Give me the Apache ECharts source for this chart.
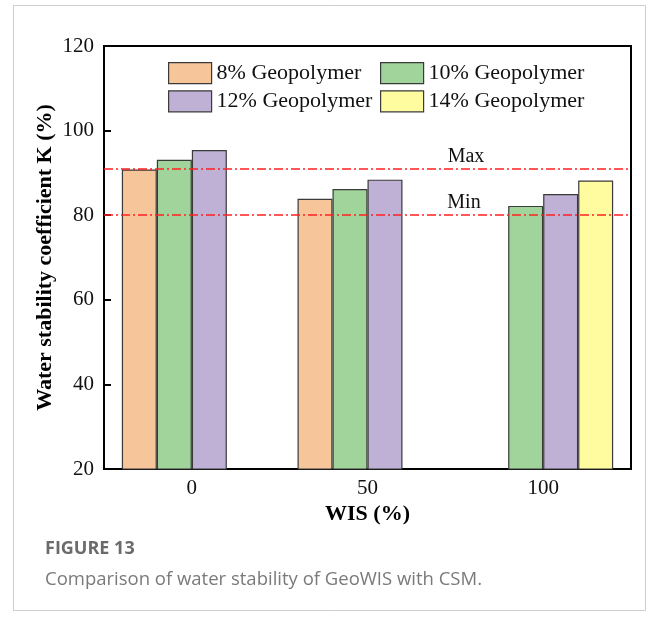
<!DOCTYPE html>
<html>
<head>
<meta charset="utf-8">
<script src="https://cdn.jsdelivr.net/npm/echarts@6/dist/echarts.min.js"></script>
<style>
  html, body { margin: 0; padding: 0; background: #fff; }
  #chart { width: 658px; height: 628px; }
</style>
</head>
<body>
<div id="chart"></div>
<script>
// WIS replacement levels on the x axis
const categories = ['0', '50', '100'];

// Water stability coefficient K (%) per geopolymer dosage
const seriesNames = ['8% Geopolymer', '10% Geopolymer', '12% Geopolymer', '14% Geopolymer'];
const geo8 = [90.8, 83.9, null];
const geo10 = [93.1, 86.2, 82.2];
const geo12 = [95.4, 88.4, 85.0];
const geo14 = [null, null, 88.2];

// Specification limits
const limitMax = 91;
const limitMin = 80;

const yTicks = { min: 20, max: 120, interval: 20 };

const colors = ['#F7C59A', '#A1D49B', '#BFB0D5', '#FFFCA0'];
const serif = '"Liberation Serif", "Times New Roman", serif';

const chart = echarts.init(document.getElementById('chart'), null, { renderer: 'canvas' });

const barBorder = { borderColor: '#3a3a3a', borderWidth: 1.2 };
const limitStyle = { color: '#FF2020', width: 1.6, type: [9, 3, 2, 3] };

function bar(name, data, color, extra) {
  return Object.assign({
    name: name,
    type: 'bar',
    data: data,
    barWidth: 35,
    barGap: '0%',
    itemStyle: Object.assign({ color: color }, barBorder),
    emphasis: { disabled: true }
  }, extra || {});
}

const legendBase = {
  orient: 'vertical',
  top: 62,
  padding: 0,
  icon: 'rect',
  itemWidth: 43,
  itemHeight: 21,
  itemGap: 6,
  selectedMode: false,
  itemStyle: { borderColor: '#3a3a3a', borderWidth: 1.2 },
  textStyle: { fontFamily: serif, fontSize: 22, color: '#111', lineHeight: 21 }
};

chart.setOption({
  animation: false,
  backgroundColor: '#fff',
  title: {
    text: 'FIGURE 13',
    subtext: 'Comparison of water stability of GeoWIS with CSM.',
    left: 45,
    top: 540,
    padding: 0,
    itemGap: 12,
    textStyle: { fontFamily: '"Open Sans", sans-serif', fontSize: 18, fontWeight: 'bold', color: '#6b6b6b' },
    subtextStyle: { fontFamily: '"Open Sans", sans-serif', fontSize: 18.5, color: '#7a7a7a' }
  },
  legend: [
    Object.assign({}, legendBase, { left: 168, data: [seriesNames[0], seriesNames[2]] }),
    Object.assign({}, legendBase, { left: 380, data: [seriesNames[1], seriesNames[3]] })
  ],
  grid: {
    left: 104, right: 27, top: 46, bottom: 159,
    show: true, borderColor: '#000', borderWidth: 2, backgroundColor: 'transparent'
  },
  xAxis: {
    type: 'category',
    data: categories,
    name: 'WIS (%)',
    nameLocation: 'middle',
    nameGap: 34,
    nameMoveOverlap: false,
    nameTextStyle: { fontFamily: serif, fontSize: 22, fontWeight: 'bold', color: '#000' },
    axisLine: { lineStyle: { color: '#000', width: 2 } },
    axisTick: { inside: true, alignWithLabel: true, length: 5, lineStyle: { color: '#000', width: 2 } },
    axisLabel: { fontFamily: serif, fontSize: 21, color: '#111', margin: 9 },
    splitLine: { show: false }
  },
  yAxis: {
    type: 'value',
    min: yTicks.min,
    max: yTicks.max,
    interval: yTicks.interval,
    name: 'Water stability coefficient K (%)',
    nameLocation: 'middle',
    nameGap: 48,
    nameMoveOverlap: false,
    nameTextStyle: { fontFamily: serif, fontSize: 22, fontWeight: 'bold', color: '#000' },
    axisLine: { show: true, lineStyle: { color: '#000', width: 2 } },
    axisTick: { show: true, inside: true, length: 7, lineStyle: { color: '#000', width: 2 } },
    axisLabel: { fontFamily: serif, fontSize: 21, color: '#111', margin: 10 },
    splitLine: { show: false }
  },
  series: [
    bar(seriesNames[0], geo8, colors[0], {
      markLine: {
        silent: true,
        symbol: 'none',
        label: { show: false },
        lineStyle: limitStyle,
        data: [{ yAxis: limitMax }, { yAxis: limitMin }]
      }
    }),
    bar(seriesNames[1], geo10, colors[1]),
    bar(seriesNames[2], geo12, colors[2]),
    bar(seriesNames[3], geo14, colors[3])
  ]
});

// Limit captions sit just above their dash-dot lines
const yMaxPx = chart.convertToPixel({ yAxisIndex: 0 }, limitMax);
const yMinPx = chart.convertToPixel({ yAxisIndex: 0 }, limitMin);
const captionFont = '20px ' + serif;

chart.setOption({
  graphic: [
    {
      type: 'rect', silent: true, z: -10,
      shape: { x: 13.5, y: 5.5, width: 632, height: 605 },
      style: { fill: 'none', stroke: '#cfcfcf', lineWidth: 1 }
    },
    {
      type: 'text', silent: true,
      x: 466, y: yMaxPx - 12,
      style: { text: 'Max', font: captionFont, fill: '#111', align: 'center', verticalAlign: 'middle' }
    },
    {
      type: 'text', silent: true,
      x: 464, y: yMinPx - 12,
      style: { text: 'Min', font: captionFont, fill: '#111', align: 'center', verticalAlign: 'middle' }
    }
  ]
});
</script>
</body>
</html>
